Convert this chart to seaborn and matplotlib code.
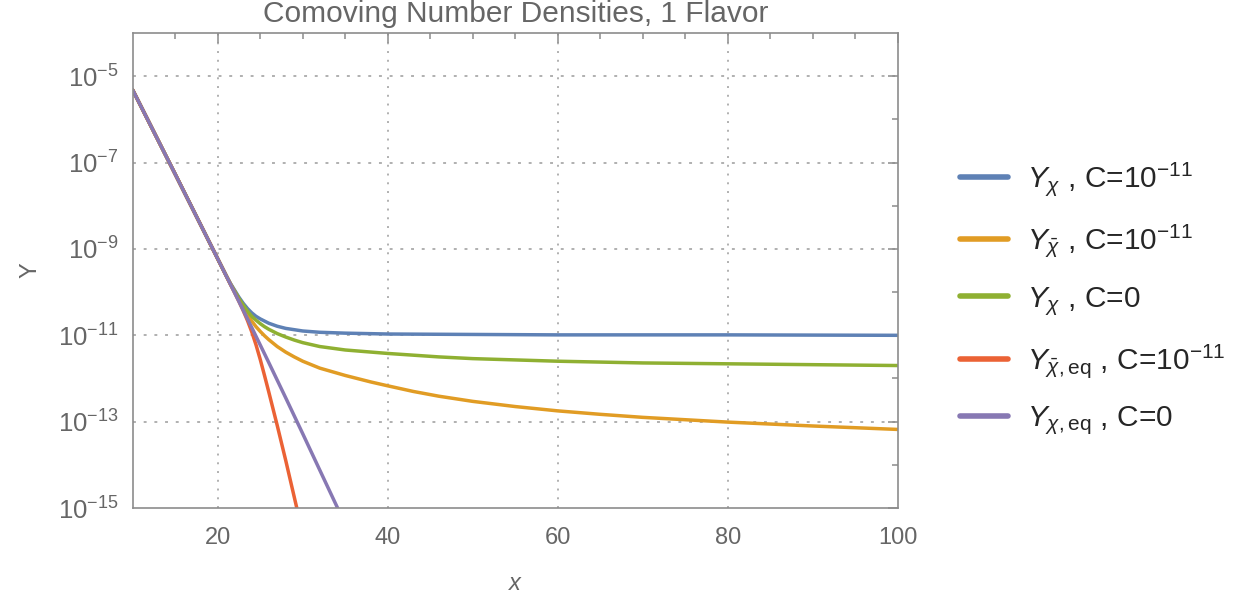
import numpy as np
import pandas as pd
import matplotlib
matplotlib.use("Agg")
import matplotlib.pyplot as plt
import seaborn as sns
from matplotlib.ticker import FixedLocator, NullFormatter, FixedFormatter

# ---- data (x, log10 Y) ----
x_blue = [10, 15, 20, 21, 21.5, 22, 22.5, 23, 23.5, 24, 24.5, 25, 25.5, 26, 27, 28, 29, 30,
          32, 35, 40, 50, 60, 80, 100]
e_blue = [-5.32, -7.27, -9.23, -9.62, -9.80, -9.96, -10.12, -10.26, -10.38, -10.48, -10.56,
          -10.62, -10.67, -10.72, -10.79, -10.84, -10.87, -10.90, -10.93, -10.95, -10.97,
          -10.98, -10.99, -10.99, -11.00]

x_orange = [10, 15, 20, 21, 21.5, 22, 22.5, 23, 23.5, 24, 24.5, 25, 25.5, 26, 27, 28, 29, 30,
            32, 35, 38, 40, 43, 46, 50, 55, 60, 65, 70, 80, 90, 100]
e_orange = [-5.32, -7.27, -9.23, -9.62, -9.82, -10.00, -10.18, -10.35, -10.52, -10.67, -10.80,
            -10.91, -11.01, -11.10, -11.26, -11.39, -11.50, -11.60, -11.76, -11.93, -12.08,
            -12.17, -12.30, -12.41, -12.53, -12.65, -12.75, -12.83, -12.90, -13.01, -13.10,
            -13.18]

x_green = [10, 15, 20, 21, 21.5, 22, 22.5, 23, 23.5, 24, 24.5, 25, 25.5, 26, 27, 28, 29, 30,
           32, 35, 40, 46, 50, 60, 70, 80, 90, 100]
e_green = [-5.32, -7.27, -9.23, -9.62, -9.81, -9.98, -10.15, -10.30, -10.44, -10.56, -10.65,
           -10.73, -10.80, -10.86, -10.96, -11.04, -11.11, -11.17, -11.26, -11.34, -11.42,
           -11.50, -11.54, -11.60, -11.64, -11.66, -11.68, -11.70]

x_red = [10, 15, 20, 22, 22.5, 23, 23.5, 24, 24.5, 25, 25.5, 26, 26.5, 27, 28, 29.3]
e_red = [-5.32, -7.27, -9.23, -10.02, -10.22, -10.43, -10.66, -10.92, -11.22, -11.56, -11.93,
         -12.31, -12.70, -13.09, -13.90, -15.0]

x_purple = [10, 15, 20, 22, 24, 26, 28, 30, 32, 34.1]
e_purple = [-5.32, -7.27, -9.23, -10.02, -10.82, -11.63, -12.45, -13.28, -14.12, -15.0]

labels = [r"$Y_{\chi}$ , C=$10^{-11}$",
          r"$Y_{\bar{\chi}}$ , C=$10^{-11}$",
          r"$Y_{\chi}$ , C=0",
          r"$Y_{\bar{\chi},\mathrm{eq}}$ , C=$10^{-11}$",
          r"$Y_{\chi,\mathrm{eq}}$ , C=0"]
colors = ["#5E81B5", "#E19C24", "#8FB032", "#EB6235", "#8778B3"]

x_ticks = [20, 40, 60, 80, 100]
y_label_exps = [-5, -7, -9, -11, -13, -15]

# ---- build long table ----
frames = []
for lab, xs, es in zip(labels,
                       [x_blue, x_orange, x_green, x_red, x_purple],
                       [e_blue, e_orange, e_green, e_red, e_purple]):
    frames.append(pd.DataFrame({"x": xs, "Y": 10.0 ** np.array(es), "series": lab}))
df = pd.concat(frames, ignore_index=True)

sns.set_theme(style="white")
plt.rcParams["font.family"] = ["Liberation Sans", "DejaVu Sans"]
plt.rcParams["mathtext.fontset"] = "custom"
plt.rcParams["mathtext.rm"] = "Liberation Sans"
plt.rcParams["mathtext.it"] = "Liberation Sans:italic"
plt.rcParams["mathtext.bf"] = "Liberation Sans:bold"

fig = plt.figure(figsize=(12.5, 6.01), dpi=100)
ax = fig.add_axes([0.1062, 0.1547, 0.612, 0.7903])

sns.lineplot(data=df, x="x", y="Y", hue="series", hue_order=labels,
             palette=colors, sort=False, estimator=None, lw=2.5, ax=ax, legend=False)
ax.set_yscale("log")
ax.set_xlim(10, 100)
ax.set_ylim(1e-15, 1e-4)

grey = "#666666"
frame = "#8c8c8c"
for s in ax.spines.values():
    s.set_color(frame)
    s.set_linewidth(1.2)

ax.xaxis.set_major_locator(FixedLocator(x_ticks))
ax.xaxis.set_minor_locator(FixedLocator(np.arange(15, 100, 5)))
ax.yaxis.set_major_locator(FixedLocator([10.0 ** e for e in y_label_exps]))
ax.yaxis.set_major_formatter(FixedFormatter([r"$10^{%d}$" % e for e in y_label_exps]))
ax.yaxis.set_minor_locator(FixedLocator([10.0 ** e for e in range(-14, -4, 2)]))
ax.yaxis.set_minor_formatter(NullFormatter())
ax.tick_params(which="both", direction="in", top=True, right=True, color=frame,
               labelcolor=grey, width=1.1)
ax.tick_params(which="major", length=7)
ax.tick_params(which="minor", length=4)
ax.tick_params(axis="x", labelsize=17, pad=14)
ax.tick_params(axis="y", labelsize=18.5, pad=10)

for xv in x_ticks[:-1]:
    ax.axvline(xv, color="#b0b0b0", lw=1.4, ls=(0, (1, 3.5)), zorder=0)
for e in y_label_exps[:-1]:
    ax.axhline(10.0 ** e, color="#b0b0b0", lw=1.4, ls=(0, (1.5, 4)), zorder=0)

ax.set_title("Comoving Number Densities, 1 Flavor", color=grey, fontsize=21.5, pad=8)
ax.set_xlabel("x", style="italic", color=grey, fontsize=17, labelpad=16)
ax.set_ylabel("Y", color=grey, fontsize=17, labelpad=12)

handles = [plt.Line2D([], [], color=c, lw=4) for c in colors]
fig.legend(handles, labels, loc="center left", bbox_to_anchor=(0.768, 0.503),
           frameon=False, fontsize=21.5, handlelength=1.62, handletextpad=0.62,
           labelspacing=0.82, borderpad=0, borderaxespad=0)

fig.savefig("out.png", dpi=100)
